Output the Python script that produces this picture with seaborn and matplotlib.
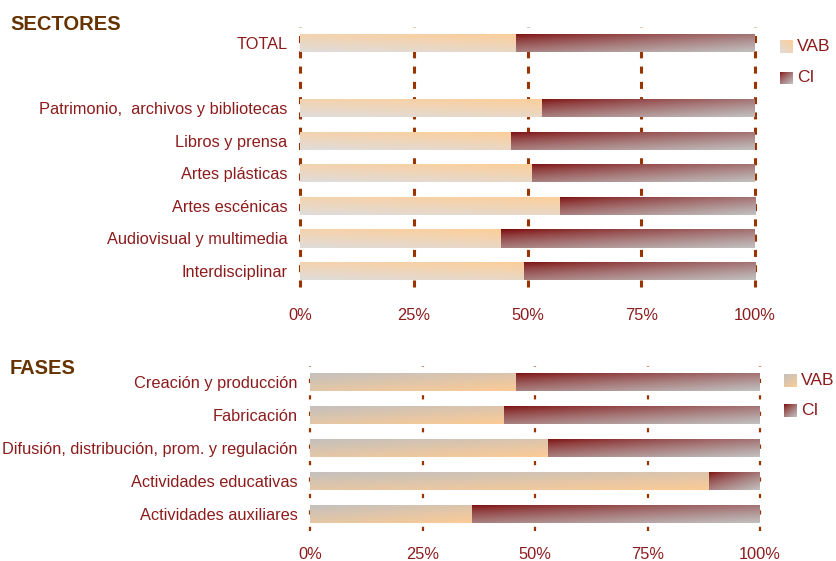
import numpy as np
import pandas as pd
import seaborn as sns
from matplotlib import pyplot as plt
from matplotlib import font_manager
from matplotlib.colors import to_rgb

# data (share of VAB in %, CI is the rest)
sect_names = ["TOTAL", "Patrimonio,  archivos y bibliotecas", "Libros y prensa",
              "Artes plásticas", "Artes escénicas", "Audiovisual y multimedia",
              "Interdisciplinar"]
sect_vab = [47.3, 53.0, 46.2, 50.8, 57.1, 44.0, 49.2]
sect_order = ["TOTAL", " "] + sect_names[1:]

fase_names = ["Creación y producción", "Fabricación",
              "Difusión, distribución, prom. y regulación",
              "Actividades educativas", "Actividades auxiliares"]
fase_vab = [45.6, 42.9, 52.7, 88.5, 35.8]

pct_ticks = [0, 25, 50, 75, 100]
series = ["VAB", "CI"]

TXT = "#8C1C1C"
GRID = "#993300"
TITLE = "#663300"

sns.set_style("white")
names = {f.name for f in font_manager.fontManager.ttflist}
if "Liberation Sans Narrow" in names:
    FAM, FS = ["Liberation Sans Narrow", "DejaVu Sans"], 13.5
else:
    FAM, FS = ["Liberation Sans", "DejaVu Sans"], 11.8
plt.rcParams["font.family"] = FAM


def gradient(c0, c1, au, av, gamma=1.0, n=64):
    u = np.linspace(0, 1, n)[None, :]
    v = np.linspace(0, 1, n)[:, None]
    t = au * u + av * v
    t = ((t - t.min()) / (t.max() - t.min())) ** gamma
    a, b = np.array(to_rgb(c0)), np.array(to_rgb(c1))
    return (1 - t)[..., None] * a + t[..., None] * b


VAB_TOP = gradient("#FDCE98", "#E0DCDA", -0.3, 0.7)
VAB_BOT = gradient("#C2C0BE", "#FCCB96", 0.4, 0.6)
CI_GRAD = gradient("#780000", "#C2C0C0", 0.45, 0.55, gamma=0.7)


def fill(ax, patch, x0, x1, img):
    y0, h = patch.get_y(), patch.get_height()
    im = ax.imshow(img, extent=(x0, x1, y0 + h, y0), aspect="auto",
                   zorder=1, interpolation="bilinear")
    im.set_clip_path(patch)
    patch.set_facecolor("none")
    patch.set_edgecolor("none")


def panel(ax, cats, vab, order, vab_img, grid_lw, grid_ls, xpad):
    df = pd.DataFrame({"nombre": cats, "VAB": vab})
    df["CI"] = 100 - df["VAB"]
    df["total"] = df["VAB"] + df["CI"]

    n0 = len(ax.patches)
    sns.barplot(data=df, y="nombre", x="total", order=order, width=0.56,
                color="#C0C0C0", errorbar=None, ax=ax)
    full = ax.patches[n0:]
    n1 = len(ax.patches)
    sns.barplot(data=df, y="nombre", x="VAB", order=order, width=0.56,
                color="#FCCB96", errorbar=None, ax=ax)
    part = ax.patches[n1:]

    for pf, pv in zip(full, part):
        fill(ax, pf, pv.get_width(), pf.get_x() + pf.get_width(), CI_GRAD)
        fill(ax, pv, 0, pv.get_width(), vab_img)

    ax.set_xlim(0, 100)
    ax.set_ylim(len(order) - 0.5, -0.5)
    ax.set_xticks(pct_ticks)
    ax.set_xticklabels([f"{t}%" for t in pct_ticks])
    ax.set_xlabel("")
    ax.set_ylabel("")
    ax.set_axisbelow(True)
    ax.grid(axis="x", color=GRID, lw=grid_lw, ls=grid_ls, clip_on=False)
    ax.grid(axis="y", visible=False)
    for s in ax.spines.values():
        s.set_visible(False)
    ax.tick_params(axis="y", length=0, pad=9, labelsize=FS, labelcolor=TXT)
    ax.tick_params(axis="x", length=0, pad=xpad, labelsize=FS, labelcolor=TXT)


def legend(fig, x, y0, y1, imgs):
    for yy, lab, img in zip([y0, y1], series, imgs):
        sw = fig.add_axes((x / 836, 1 - (yy + 6.5) / 561, 13 / 836, 13 / 561))
        sw.imshow(img, aspect="auto", interpolation="bilinear")
        sw.axis("off")
        fig.text((x + 17) / 836, 1 - yy / 561, lab, color=TXT, fontsize=FS + 0.7,
                 va="center", ha="left")


fig = plt.figure(figsize=(8.36, 5.61), dpi=100)

ax1 = fig.add_axes((300 / 836, 1 - 287.3 / 561, 455 / 836, 260.6 / 561))
panel(ax1, sect_names, sect_vab, sect_order, VAB_TOP, 2.2, (0, (2.3, 2.7)), 15)

ax2 = fig.add_axes((310 / 836, 1 - 530.5 / 561, 450 / 836, 165 / 561))
panel(ax2, fase_names, fase_vab, fase_names, VAB_BOT, 1.6, (0, (1.9, 5.5)), 12)

legend(fig, 780, 46.5, 78, [gradient("#FDCE98", "#E0DCDA", -0.5, 0.5), CI_GRAD])
legend(fig, 784, 380.5, 410.5, [VAB_BOT, CI_GRAD])

fig.text(10 / 836, 1 - 24 / 561, "SECTORES", color=TITLE, fontsize=14.5,
         fontweight="bold", family=["Liberation Sans", "DejaVu Sans"], va="center")
fig.text(10 / 836, 1 - 368 / 561, "FASES", color=TITLE, fontsize=14.5,
         fontweight="bold", family=["Liberation Sans", "DejaVu Sans"], va="center")

fig.savefig("out.png", dpi=100)
